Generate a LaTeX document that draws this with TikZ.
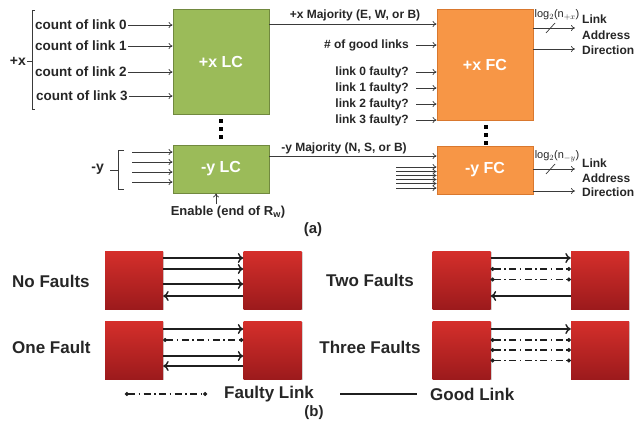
\documentclass[tikz,border=0pt]{standalone}
\usepackage{fontspec}
\setmainfont{Liberation Sans}
\usetikzlibrary{arrows.meta,shadows}
\definecolor{txt}{HTML}{262626}
\definecolor{wirec}{HTML}{3A3A3A}
\definecolor{lcf}{HTML}{9BBB59}
\definecolor{lcb}{HTML}{71893F}
\definecolor{fcf}{HTML}{F79646}
\definecolor{fcb}{HTML}{D9782E}
\definecolor{redtop}{HTML}{D52F2B}
\definecolor{redbot}{HTML}{9C1A1C}
\tikzset{
  lbl/.style={font=\bfseries\fontsize{12}{14}\selectfont, text=txt, inner sep=0pt},
  cnt/.style={font=\bfseries\fontsize{13.5}{16}\selectfont, text=txt, inner sep=0pt, anchor=west},
  big/.style={font=\bfseries\fontsize{17}{20}\selectfont, text=txt, inner sep=0pt},
  lcbox/.style={draw=lcb, line width=0.8pt, fill=lcf, minimum width=96pt, text=white, font=\bfseries\fontsize{16}{19}\selectfont},
  fcbox/.style={draw=fcb, line width=0.8pt, fill=fcf, minimum width=96pt, text=white, font=\bfseries\fontsize{16}{19}\selectfont},
  wire/.style={draw=wirec, line width=0.7pt},
  arr/.style={wire, -{To[length=4pt,width=6pt]}},
  dotsq/.style={fill=black, minimum size=3.6pt, inner sep=0pt},
  redbox/.style={minimum width=58pt, minimum height=58pt, top color=redtop, bottom color=redbot, draw=none,
    drop shadow={opacity=0.35, shadow xshift=1.2pt, shadow yshift=-1.2pt}},
  good/.style={draw=black!88, line width=1.4pt},
  goodarr/.style={good, -{To[length=5.5pt,width=10pt]}},
  faulty/.style={draw=black!88, line width=1.4pt, dash pattern=on 7pt off 3.5pt on 1.5pt off 3.5pt,
    {Circle[length=3.8pt,width=3.8pt]}-{Circle[length=3.8pt,width=3.8pt]}},
}
\begin{document}
\begin{tikzpicture}[x=1pt,y=-1pt]
\useasboundingbox (0,0) rectangle (637,428);

% ---------- (a) ----------
\node[lcbox, minimum height=105pt] (lcx) at (221,62) {+x LC};
\node[lcbox, minimum height=48pt] (lcy) at (221,169) {-y LC};
\node[fcbox, minimum height=111pt] (fcx) at (485,64.5) {+x FC};
\node[fcbox, minimum height=48pt] (fcy) at (485,170) {-y FC};

% dots
\node[dotsq] (d1) at (221,121) {};
\node[dotsq] (d2) at (221,129) {};
\node[dotsq] (d3) at (221,137) {};
\node[dotsq] (e1) at (486,127) {};
\node[dotsq] (e2) at (486,135) {};
\node[dotsq] (e3) at (486,143) {};

% +x inputs
\node[cnt] (c0) at (35,25) {count of link 0};
\node[cnt] (c1) at (35,46) {count of link 1};
\node[cnt] (c2) at (35,72) {count of link 2};
\node[cnt] (c3) at (36,96) {count of link 3};
\foreach \i in {0,1,2,3}{
  \draw[arr] ([xshift=1pt]c\i.east) -- (c\i.east -| lcx.west);
}
\draw[wire] (35,10) -- (32,10) -- (32,109) -- (35,109);
\draw[wire] (27,61) -- (32,61);
\node[font=\bfseries\fontsize{14}{16}\selectfont, text=txt, inner sep=0pt, anchor=east] (px) at (26,61) {+x};

% -y inputs
\draw[wire] (124,150) -- (118,150) -- (118,189) -- (124,189);
\draw[wire] (110,170) -- (118,170);
\node[font=\bfseries\fontsize{14}{16}\selectfont, text=txt, inner sep=0pt, anchor=east] (my) at (104,169) {-y};
\foreach \yy [count=\k] in {152,162,172,182}{
  \coordinate (yin\k) at (132,\yy);
  \draw[arr] (yin\k) -- (yin\k -| lcy.west);
}

% enable
\node[font=\bfseries\fontsize{13}{15}\selectfont, text=txt, inner sep=0pt] (en) at (228,212) {Enable (end of R$_\mathbf{w}$)};
\coordinate (ena) at (216,204);
\draw[arr] (ena) -- (ena |- lcy.south);

% majority lines
\coordinate (mx) at (0,24);
\draw[arr] (mx -| lcx.east) -- (mx -| fcx.west);
\node[lbl] (mxl) at (355,15) {+x Majority (E, W, or B)};
\coordinate (my1) at (0,156);
\draw[arr] (my1 -| lcy.east) -- (my1 -| fcy.west);
\node[lbl] (myl) at (344,148) {-y Majority (N, S, or B)};

% FC inputs
\node[lbl, anchor=east] (g) at (409,45) {\# of good links};
\node[lbl, anchor=east] (f0) at (409,72) {link 0 faulty?};
\node[lbl, anchor=east] (f1) at (409,88) {link 1 faulty?};
\node[lbl, anchor=east] (f2) at (409,104) {link 2 faulty?};
\node[lbl, anchor=east] (f3) at (409,120) {link 3 faulty?};
\foreach \n in {g,f0,f1,f2,f3}{
  \draw[arr] ([xshift=7pt]\n.east) -- (\n.east -| fcx.west);
}
\foreach \yy [count=\k] in {167,171.5,175.5,179.5,183.5,188}{
  \coordinate (fyin\k) at (396,\yy);
  \draw[arr] (fyin\k) -- (fyin\k -| fcy.west);
}

% FC outputs
\coordinate (ox1) at (575,28);
\coordinate (ox2) at (575,49);
\draw[arr] (ox1 -| fcx.east) -- (ox1);
\draw[arr] (ox2 -| fcx.east) -- (ox2);
\draw[wire] (546,33) -- (555,23);
\node[font=\fontsize{11}{13}\selectfont, text=txt, inner sep=0pt] (lgx) at (557,15) {log$_2$(n$_{+x}$)};
\node[lbl, anchor=west] (lkx) at (582,19.5) {Link};
\node[lbl, anchor=west] (adx) at (582,35) {Address};
\node[lbl, anchor=west] (drx) at (582,50) {Direction};

\coordinate (oy1) at (575,169);
\coordinate (oy2) at (575,191);
\draw[arr] (oy1 -| fcy.east) -- (oy1);
\draw[arr] (oy2 -| fcy.east) -- (oy2);
\draw[wire] (546,174) -- (555,164);
\node[font=\fontsize{11}{13}\selectfont, text=txt, inner sep=0pt] (lgy) at (557,156) {log$_2$(n$_{-y}$)};
\node[lbl, anchor=west] (lky) at (582,163) {Link};
\node[lbl, anchor=west] (ady) at (582,178) {Address};
\node[lbl, anchor=west] (dry) at (582,192) {Direction};

\node[font=\bfseries\fontsize{15}{17}\selectfont, text=txt, inner sep=0pt] (capa) at (313,230) {(a)};

% ---------- (b) ----------
\node[redbox] (b1) at (134,280) {};
\node[redbox] (b2) at (272.5,280) {};
\node[redbox] (b3) at (134,350) {};
\node[redbox] (b4) at (272.5,350) {};
\node[redbox] (b5) at (461.5,280) {};
\node[redbox] (b6) at (600,280) {};
\node[redbox] (b7) at (461.5,350) {};
\node[redbox] (b8) at (600,350) {};

\node[big, anchor=west] (nf) at (12,281) {No Faults};
\node[big, anchor=west] (of) at (12,347) {One Fault};
\node[big] (tf) at (370,280) {Two Faults};
\node[big] (hf) at (370,347) {Three Faults};

% No faults
\foreach \yy in {258,269,284}{
  \coordinate (p) at (0,\yy);
  \draw[goodarr] (p -| b1.east) -- (p -| b2.west);
}
\coordinate (p) at (0,296);
\draw[goodarr] (p -| b2.west) -- (p -| b1.east);

% One fault
\coordinate (p) at (0,329);
\draw[goodarr] (p -| b3.east) -- (p -| b4.west);
\coordinate (p) at (0,340);
\draw[faulty] (p -| b3.east) -- (p -| b4.west);
\coordinate (p) at (0,356);
\draw[goodarr] (p -| b3.east) -- (p -| b4.west);
\coordinate (p) at (0,366);
\draw[goodarr] (p -| b4.west) -- (p -| b3.east);

% Two faults
\coordinate (p) at (0,258);
\draw[goodarr] (p -| b5.east) -- (p -| b6.west);
\foreach \yy in {269,279.5}{
  \coordinate (p) at (0,\yy);
  \draw[faulty] (p -| b5.east) -- (p -| b6.west);
}
\coordinate (p) at (0,296);
\draw[goodarr] (p -| b6.west) -- (p -| b5.east);

% Three faults
\coordinate (p) at (0,329);
\draw[goodarr] (p -| b7.east) -- (p -| b8.west);
\foreach \yy in {340,350,360.5}{
  \coordinate (p) at (0,\yy);
  \draw[faulty] (p -| b7.east) -- (p -| b8.west);
}

% legend
\coordinate (fl1) at (125,394);
\coordinate (fl2) at (207,394);
\draw[faulty] (fl1) -- (fl2);
\node[big, anchor=west] (flt) at (224,394) {Faulty Link};
\coordinate (gl1) at (340,394);
\coordinate (gl2) at (417,394);
\draw[good] (gl1) -- (gl2);
\node[big, anchor=west] (glt) at (430,394) {Good Link};
\node[font=\bfseries\fontsize{15}{17}\selectfont, text=txt, inner sep=0pt] (capb) at (314,413) {(b)};
\end{tikzpicture}
\end{document}
